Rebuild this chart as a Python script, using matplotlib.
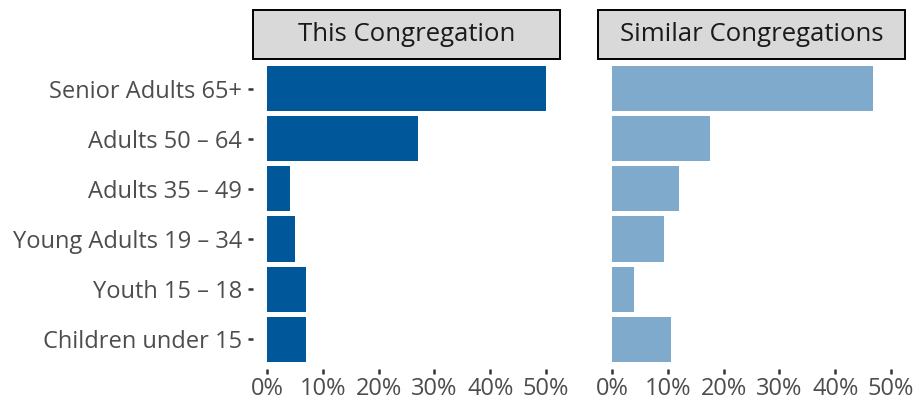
import matplotlib.pyplot as plt
from matplotlib.patches import Rectangle
from matplotlib.ticker import FuncFormatter

plt.rcParams['font.family'] = ['Open Sans', 'DejaVu Sans']

groups = ['Senior Adults 65+', 'Adults 50 \u2013 64', 'Adults 35 \u2013 49',
          'Young Adults 19 \u2013 34', 'Youth 15 \u2013 18', 'Children under 15']
this_congregation = [50.0, 27.0, 4.2, 5.1, 7.0, 7.0]
similar_congregations = [46.7, 17.6, 12.1, 9.4, 4.0, 10.6]
panel_titles = ['This Congregation', 'Similar Congregations']
colors = ['#00579A', '#7FAACB']

W, H = 917, 401
fig = plt.figure(figsize=(W / 100, H / 100), dpi=100)

panel_left = [253, 598]
panel_width = 307
panel_top, panel_bottom = 59, 369
strip_h = 49

ypos = list(range(len(groups)))[::-1]

for i, (vals, title, col) in enumerate(zip([this_congregation, similar_congregations],
                                            panel_titles, colors)):
    ax = fig.add_axes([panel_left[i] / W, 1 - panel_bottom / H,
                       panel_width / W, (panel_bottom - panel_top) / H])
    ax.barh(ypos, vals, height=0.9, color=col)
    ax.set_xlim(-2.5, 52.5)
    ax.set_ylim(-0.6, len(groups) - 0.4)
    ax.set_xticks([0, 10, 20, 30, 40, 50])
    ax.xaxis.set_major_formatter(FuncFormatter(lambda v, p: f'{v:.0f}%'))
    ax.set_yticks(ypos)
    if i == 0:
        ax.set_yticklabels(groups)
    else:
        ax.tick_params(axis='y', left=False, labelleft=False)
    for s in ax.spines.values():
        s.set_visible(False)
    ax.tick_params(length=3.5, width=1.8, color='#333333', labelcolor='#4D4D4D',
                   labelsize=17, pad=2)
    ax.tick_params(axis='y', length=3.5, pad=4.5)

    # facet strip above the panel
    sh = strip_h / (panel_bottom - panel_top)
    ax.add_patch(Rectangle((0, 1), 1, sh, transform=ax.transAxes, clip_on=False,
                           facecolor='#D9D9D9', edgecolor='black', linewidth=1.4))
    ax.text(0.5, 1 + sh / 2, title, transform=ax.transAxes, ha='center', va='center',
            fontsize=18.5, color='#1A1A1A')

fig.savefig('out.png', dpi=100)
